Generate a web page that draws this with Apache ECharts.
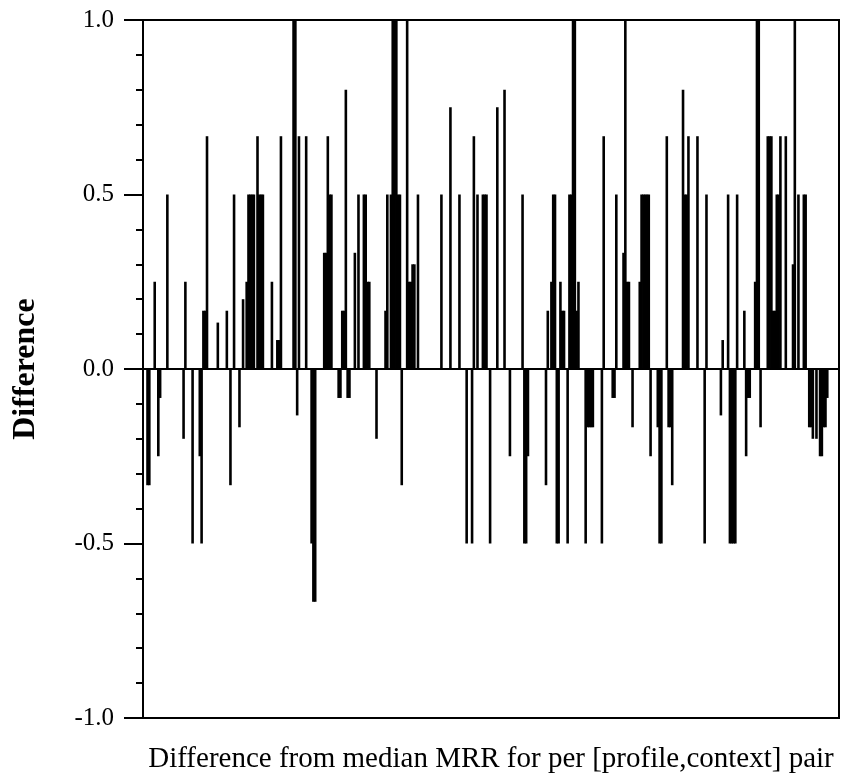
<!DOCTYPE html>
<html>
<head>
<meta charset="utf-8">
<script src="https://cdn.jsdelivr.net/npm/echarts@6/dist/echarts.min.js"></script>
<style>
  html, body { margin: 0; padding: 0; background: #fff; }
  #chart { width: 849px; height: 780px; }
</style>
</head>
<body>
<div id="chart"></div>
<script>
// Difference from the median MRR, one value per [profile,context] pair (386 pairs)
const pairValues = [
  0, 0, -0.333, -0.333, 0, 0, 0.25, 0, -0.25, -0.083,
  0, 0, 0, 0.5, 0, 0, 0, 0, 0, 0,
  0, 0, -0.2, 0.25, 0, 0, 0, -0.5, 0, 0,
  0, -0.25, -0.5, 0.167, 0.167, 0.667, 0, 0, 0, 0,
  0, 0.133, 0, 0, 0, 0, 0.167, 0, -0.333, 0,
  0.5, 0, 0, -0.167, 0, 0.2, 0, 0.25, 0.5, 0.5,
  0.5, 0.5, 0, 0.667, 0.5, 0.5, 0.5, 0, 0, 0,
  0, 0.25, 0, 0, 0.083, 0.083, 0.667, 0, 0, 0,
  0, 0, 0, 1, 1, -0.133, 0.667, 0, 0, 0,
  0.667, 0, 0, -0.5, -0.667, -0.667, 0, 0, 0, 0,
  0.333, 0.333, 0.667, 0.5, 0.5, 0, 0, 0, -0.083, -0.083,
  0.167, 0.167, 0.8, -0.083, -0.083, 0, 0, 0.333, 0, 0.5,
  0, 0, 0.5, 0.5, 0.25, 0.25, 0, 0, 0, -0.2,
  0, 0, 0, 0, 0.167, 0.5, 0, 0.5, 1, 1,
  1, 0.5, 0.5, -0.333, 0, 0, 1, 0.25, 0.25, 0.3,
  0.3, 0, 0.5, 0, 0, 0, 0, 0, 0, 0,
  0, 0, 0, 0, 0, 0.5, 0, 0, 0, 0,
  0.75, 0, 0, 0, 0, 0.5, 0, 0, 0, -0.5,
  0, 0, -0.5, 0.667, 0, 0.5, 0, 0, 0.5, 0.5,
  0.5, 0, -0.5, 0, 0, 0, 0.75, 0, 0, 0,
  0.8, 0, 0, -0.25, 0, 0, 0, 0, 0, 0,
  0.5, -0.5, -0.5, -0.25, 0, 0, 0, 0, 0, 0,
  0, 0, 0, -0.333, 0.167, 0, 0.25, 0.5, 0.5, -0.5,
  -0.5, 0.25, 0.167, 0.167, 0, -0.5, 0.5, 0.5, 1, 1,
  0.167, 0.25, 0, 0, 0, -0.5, -0.167, -0.167, -0.167, -0.167,
  0, 0, 0, 0, -0.5, 0.667, 0, 0, 0, 0,
  -0.083, -0.083, 0.5, 0, 0, 0, 0.333, 1, 0.25, 0.25,
  0, -0.167, 0, 0, 0, 0.25, 0.5, 0.5, 0.5, 0.5,
  0.5, -0.25, 0, 0, 0, -0.167, -0.5, -0.5, 0, 0,
  0.667, -0.167, -0.167, -0.333, 0, 0, 0, 0, 0, 0.8,
  0.5, 0.5, 0.667, 0, 0, 0, 0, 0.667, 0, 0,
  0, -0.5, 0.5, 0, 0, 0, 0, 0, 0, 0,
  -0.133, 0.083, 0, 0, 0.5, -0.5, -0.5, -0.5, -0.5, 0.5,
  0, 0, 0, 0.167, -0.25, -0.083, -0.083, 0, 0, 0.25,
  1, 1, -0.167, 0, 0, 0, 0.667, 0.667, 0.667, 0.167,
  0.167, 0.5, 0.5, 0.667, 0, 0, 0.667, 0, 0, 0,
  0.3, 1, 0, 0.5, 0, 0, 0.5, 0.5, 0, -0.167,
  -0.167, -0.2, 0, -0.2, 0, -0.25, -0.25, -0.167, -0.167, -0.083,
  0, 0, 0, 0, 0, 0
];
const pairIds = pairValues.map((_, i) => String(i + 1));

// Value axis range and major step
const yMin = -1.0;
const yMax = 1.0;
const yStep = 0.5;

const xTitle = 'Difference from median MRR for per [profile,context] pair';
const yTitle = 'Difference';

const serif = '"Liberation Serif", "Times New Roman", serif';
const chart = echarts.init(document.getElementById('chart'), null, { renderer: 'canvas' });

chart.setOption({
  animation: false,
  backgroundColor: '#ffffff',
  grid: {
    left: 143, right: 10, top: 20, bottom: 62,
    outerBoundsMode: 'none',
    show: true, borderColor: '#000', borderWidth: 2
  },
  xAxis: [
    {
      type: 'category',
      data: pairIds,
      boundaryGap: true,
      axisLine: { show: true, onZero: true, lineStyle: { color: '#000', width: 2 } },
      axisTick: { show: false },
      axisLabel: { show: false },
      splitLine: { show: false }
    },
    {
      type: 'category',
      position: 'bottom',
      data: pairIds,
      axisLine: { show: false },
      axisTick: { show: false },
      axisLabel: { show: false },
      splitLine: { show: false },
      name: xTitle,
      nameLocation: 'middle',
      nameGap: 27,
      nameTextStyle: { fontFamily: serif, fontSize: 29, color: '#000', verticalAlign: 'top' }
    }
  ],
  yAxis: {
    type: 'value',
    min: yMin, max: yMax, interval: yStep,
    name: yTitle,
    nameLocation: 'middle',
    nameGap: 101,
    nameTextStyle: { fontFamily: serif, fontSize: 32, fontWeight: 'bold', color: '#000' },
    axisLine: { show: true, onZero: false, lineStyle: { color: '#000', width: 2 } },
    axisTick: { show: true, inside: false, length: 19, lineStyle: { color: '#000', width: 2 } },
    minorTick: { show: true, splitNumber: 5, length: 7, lineStyle: { color: '#000', width: 2 } },
    axisLabel: {
      margin: 29,
      fontFamily: serif, fontSize: 25, color: '#000',
      formatter: v => v.toFixed(1)
    },
    splitLine: { show: false },
    minorSplitLine: { show: false }
  },
  series: [{
    type: 'bar',
    data: pairValues,
    xAxisIndex: 0,
    barWidth: 2.6,
    itemStyle: { color: '#000' },
    silent: true
  }]
});
</script>
</body>
</html>
